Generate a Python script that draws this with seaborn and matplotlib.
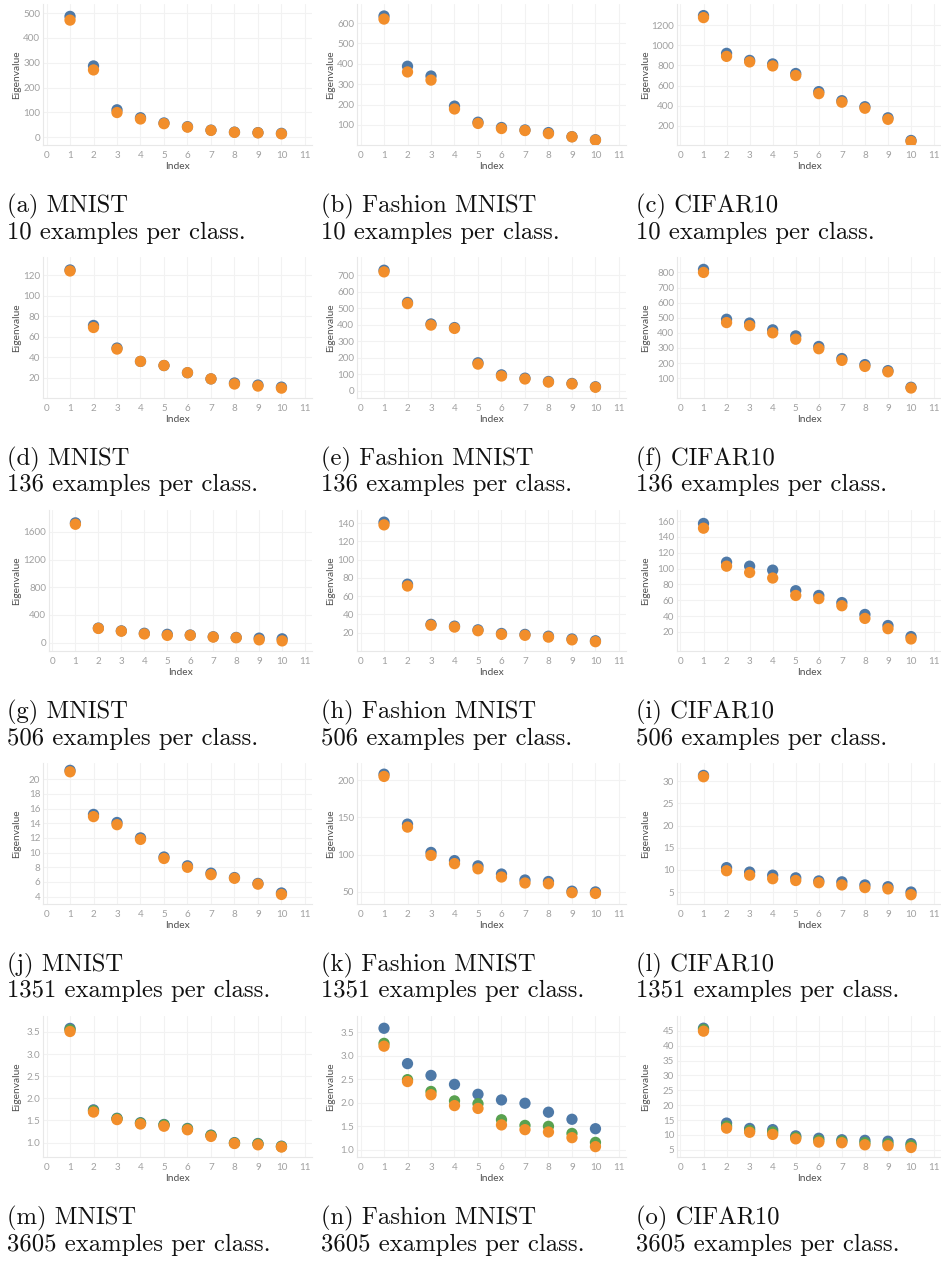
import numpy as np
import pandas as pd
import matplotlib
matplotlib.use("Agg")
import matplotlib.pyplot as plt
import seaborn as sns

# ---------------- data ----------------
index = list(range(1, 11))
x_ticks = list(range(0, 12))

# row 1: 10 examples per class
a_blue = [487, 287, 110, 78, 57, 42, 28, 20, 18, 15]
a_orange = [472, 271, 99, 73, 54, 40, 27, 19, 17, 13]
b_blue = [635, 388, 340, 192, 113, 87, 75, 62, 42, 27]
b_orange = [620, 360, 320, 178, 107, 82, 72, 57, 41, 25]
c_blue = [1295, 920, 850, 815, 720, 540, 450, 390, 280, 55]
c_orange = [1275, 890, 835, 795, 700, 520, 435, 375, 265, 45]
# row 2: 136 examples per class
d_blue = [125, 71, 49, 36, 32, 25, 19, 15, 13, 11]
d_orange = [124, 69, 48, 36, 32, 25, 19, 14, 12, 10]
e_blue = [730, 535, 405, 383, 170, 97, 77, 57, 45, 25]
e_orange = [720, 528, 398, 378, 162, 90, 72, 53, 42, 22]
f_blue = [820, 490, 465, 420, 380, 310, 230, 190, 150, 40]
f_orange = [800, 468, 448, 400, 358, 295, 218, 178, 142, 35]
# row 3: 506 examples per class
g_blue = [1730, 210, 170, 135, 120, 110, 85, 75, 65, 55]
g_orange = [1710, 205, 165, 125, 105, 105, 80, 70, 40, 25]
h_blue = [141, 73, 29, 27, 23, 19, 18, 16, 13, 11]
h_orange = [138, 71, 28, 26, 22, 18, 17, 15, 12, 10]
i_blue = [157, 108, 103, 98, 72, 66, 57, 42, 28, 14]
i_orange = [151, 103, 95, 88, 66, 62, 53, 37, 24, 11]
# row 4: 1351 examples per class
j_blue = [21.2, 15.2, 14.1, 12.0, 9.4, 8.2, 7.2, 6.6, 5.8, 4.5]
j_orange = [21.0, 14.9, 13.8, 11.8, 9.2, 8.0, 7.0, 6.5, 5.7, 4.3]
k_blue = [208, 141, 103, 92, 85, 74, 66, 64, 51, 50]
k_orange = [205, 137, 99, 88, 81, 70, 62, 61, 49, 48]
l_blue = [31.3, 10.5, 9.5, 8.8, 8.2, 7.5, 7.3, 6.6, 6.2, 5.0]
l_orange = [31.0, 9.8, 8.8, 8.0, 7.6, 7.1, 6.6, 6.0, 5.7, 4.4]
# row 5: 3605 examples per class
m_blue = [3.58, 1.74, 1.55, 1.45, 1.41, 1.32, 1.17, 1.00, 0.98, 0.92]
m_green = [3.55, 1.72, 1.54, 1.44, 1.40, 1.31, 1.16, 0.99, 0.97, 0.91]
m_orange = [3.51, 1.69, 1.52, 1.42, 1.37, 1.29, 1.14, 0.98, 0.95, 0.90]
n_blue = [3.58, 2.83, 2.58, 2.39, 2.18, 2.06, 1.99, 1.80, 1.65, 1.45]
n_green = [3.26, 2.49, 2.24, 2.04, 1.98, 1.64, 1.52, 1.50, 1.35, 1.16]
n_orange = [3.20, 2.45, 2.17, 1.94, 1.88, 1.53, 1.43, 1.38, 1.26, 1.07]
o_blue = [45.9, 14.0, 12.2, 11.8, 9.7, 8.9, 8.4, 8.2, 7.9, 7.1]
o_green = [45.5, 13.0, 11.5, 11.0, 9.2, 8.2, 7.9, 7.4, 7.0, 6.5]
o_orange = [44.9, 12.3, 10.9, 10.2, 8.7, 7.6, 7.4, 6.7, 6.4, 5.8]

datasets = ["MNIST", "Fashion MNIST", "CIFAR10"]
examples = [10, 136, 506, 1351, 3605]
letters = list("abcdefghijklmno")

a_yticks = [0, 100, 200, 300, 400, 500]
b_yticks = [100, 200, 300, 400, 500, 600]
c_yticks = [200, 400, 600, 800, 1000, 1200]
d_yticks = [20, 40, 60, 80, 100, 120]
e_yticks = [0, 100, 200, 300, 400, 500, 600, 700]
f_yticks = [100, 200, 300, 400, 500, 600, 700, 800]
g_yticks = [0, 400, 800, 1200, 1600]
h_yticks = [20, 40, 60, 80, 100, 120, 140]
i_yticks = [20, 40, 60, 80, 100, 120, 140, 160]
j_yticks = [4, 6, 8, 10, 12, 14, 16, 18, 20]
k_yticks = [50, 100, 150, 200]
l_yticks = [5, 10, 15, 20, 25, 30]
m_yticks = [1.0, 1.5, 2.0, 2.5, 3.0, 3.5]
n_yticks = [1.0, 1.5, 2.0, 2.5, 3.0, 3.5]
o_yticks = [5, 10, 15, 20, 25, 30, 35, 40, 45]

panels = [
    (a_blue, None, a_orange, a_yticks, (-32, 537), "{:.0f}"),
    (b_blue, None, b_orange, b_yticks, (1, 694), "{:.0f}"),
    (c_blue, None, c_orange, c_yticks, (10, 1410), "{:.0f}"),
    (d_blue, None, d_orange, d_yticks, (0.4, 137.6), "{:.0f}"),
    (e_blue, None, e_orange, e_yticks, (-43, 810), "{:.0f}"),
    (f_blue, None, f_orange, f_yticks, (-31, 902), "{:.0f}"),
    (g_blue, None, g_orange, g_yticks, (-121, 1916), "{:.0f}"),
    (h_blue, None, h_orange, h_yticks, (-0.2, 154.3), "{:.0f}"),
    (i_blue, None, i_orange, i_yticks, (-4.2, 174), "{:.0f}"),
    (j_blue, None, j_orange, j_yticks, (3.0, 22.2), "{:.0f}"),
    (k_blue, None, k_orange, k_yticks, (33.8, 223), "{:.0f}"),
    (l_blue, None, l_orange, l_yticks, (2.3, 34.1), "{:.0f}"),
    (m_blue, m_green, m_orange, m_yticks, (0.675, 3.86), "{:.1f}"),
    (n_blue, n_green, n_orange, n_yticks, (0.85, 3.84), "{:.1f}"),
    (o_blue, o_green, o_orange, o_yticks, (2.6, 50.0), "{:.0f}"),
]

palette = {"blue": "#4e79a7", "green": "#59a14f", "orange": "#f28e2b"}

# ---------------- figure ----------------
sns.set_theme(style="white")
plt.rcParams["font.family"] = ["Lato", "DejaVu Sans"]

W, H = 941, 1263
fig = plt.figure(figsize=(W / 100, H / 100), dpi=100)

col_left = [43, 357, 677]
col_right = [312, 626, 941]
ylabel_x = [17, 331, 646]
caption_x = [7, 321, 636]
row_pitch = 253
left_shift = {6: 6}   # panel (g) has wider tick labels

tick_color = "#a0a0a0"
title_color = "#505050"

for p, (blue, green, orange, yticks, ylim, fmt) in enumerate(panels):
    r, c = divmod(p, 3)
    top = 4 + row_pitch * r
    bottom = 145 + row_pitch * r
    left, right = col_left[c] + left_shift.get(p, 0), col_right[c]
    ax = fig.add_axes([left / W, 1 - bottom / H, (right - left) / W, (bottom - top) / H])

    frames = [pd.DataFrame({"Index": index, "Eigenvalue": blue, "series": "blue"})]
    if green is not None:
        frames.append(pd.DataFrame({"Index": index, "Eigenvalue": green, "series": "green"}))
    frames.append(pd.DataFrame({"Index": index, "Eigenvalue": orange, "series": "orange"}))
    df = pd.concat(frames, ignore_index=True)

    sns.scatterplot(data=df, x="Index", y="Eigenvalue", hue="series", palette=palette,
                    s=66, linewidth=0, legend=False, ax=ax, zorder=3)

    ax.set_xlim(-0.15, 11.3)
    ax.set_ylim(*ylim)
    ax.set_xticks(x_ticks)
    ax.set_yticks(yticks)
    ax.set_yticklabels([fmt.format(v) for v in yticks])
    ax.grid(True, color="#f2f2f2", linewidth=0.8)
    ax.set_axisbelow(True)
    for side in ["top", "right"]:
        ax.spines[side].set_visible(False)
    for side in ["left", "bottom"]:
        ax.spines[side].set_color("#e8e8e8")
        ax.spines[side].set_linewidth(0.8)
    ax.tick_params(axis="both", length=0, labelsize=7.1, labelcolor=tick_color, pad=2)
    ax.tick_params(axis="x", pad=4)
    ax.set_xlabel("Index", fontsize=7.4, color=title_color, labelpad=2)
    ax.set_ylabel("Eigenvalue", fontsize=7.4, color=title_color, va="center")
    ax.yaxis.set_label_coords((ylabel_x[c] - left) / (right - left), 0.5)

    y1 = 212.7 + row_pitch * r
    y2 = 238.5 + row_pitch * r
    fig.text(caption_x[c] / W, 1 - y1 / H, f"({letters[p]}) {datasets[c]}",
             fontfamily="cmr10", fontsize=17.8, va="baseline", ha="left", color="#111111")
    fig.text(caption_x[c] / W, 1 - y2 / H, f"{examples[r]} examples per class.",
             fontfamily="cmr10", fontsize=17.8, va="baseline", ha="left", color="#111111")

fig.savefig("out.png", dpi=100)
